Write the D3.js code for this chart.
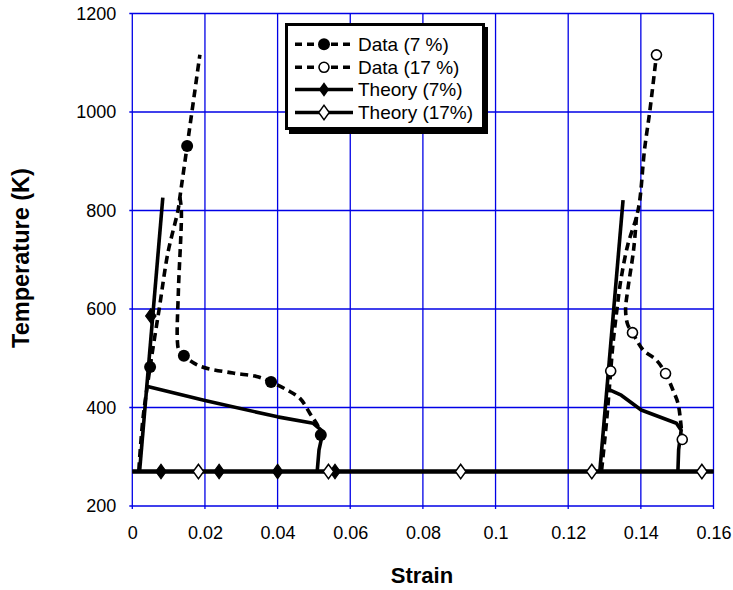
<!DOCTYPE html>
<html><head><meta charset="utf-8">
<script src="https://cdn.jsdelivr.net/npm/d3@7"></script>
<style>body{margin:0;background:#fff}svg{display:block}text{font-family:"Liberation Sans",Arial,sans-serif}</style>
</head><body><svg id="c" width="733" height="590"></svg>
<script>
const strainTicks = [0,0.02,0.04,0.06,0.08,0.1,0.12,0.14,0.16];
const tempTicks = [200,400,600,800,1000,1200];
const seriesNames = ["Data (7 %)","Data (17 %)","Theory (7%)","Theory (17%)"];

const data7Heat = [[0.0018,273],[0.0029,375],[0.0049,482],[0.0075,605],[0.0098,714],[0.0126,801],[0.0131,827],[0.0151,931],[0.0186,1116]];
const data7Cool = [[0.0131,827],[0.0135,801],[0.0127,639],[0.0124,537],[0.0128,517],[0.0142,505],[0.0186,484],[0.0277,470],[0.0342,463],[0.0382,452],[0.0425,436],[0.0461,419],[0.0489,388],[0.0512,361],[0.0519,344]];
const data7Markers = [[0.0151,931],[0.0049,482],[0.0142,505],[0.0382,452],[0.0519,344]];

const data17Heat = [[0.1292,273],[0.1306,375],[0.1317,474],[0.1323,527],[0.1334,598],[0.1345,659],[0.1364,730],[0.1388,787],[0.1397,821],[0.1410,923],[0.1424,998],[0.1443,1116]];
const data17Cool = [[0.1388,787],[0.1380,720],[0.1364,639],[0.1358,598],[0.1364,568],[0.1377,552],[0.1406,517],[0.1443,496],[0.1468,469],[0.1488,436],[0.1502,409],[0.1509,375],[0.1514,335]];
const data17Markers = [[0.1443,1116],[0.1377,552],[0.1317,474],[0.1468,469],[0.1514,335]];

const theory7Up = [[0.0020,270],[0.0084,826]];
const theory7Down = [[0.0045,442],[0.0200,414],[0.0400,381],[0.0498,368],[0.0525,351],[0.0514,314],[0.0509,270]];
const theory7Base = [[0,270],[0.16,270]];
const theory7Markers = [[0.0079,270],[0.0239,270],[0.0400,270],[0.0558,270],[0.0051,586]];

const theory17Up = [[0.1287,270],[0.1351,821]];
const theory17Down = [[0.1314,436],[0.1346,425],[0.1401,395],[0.1498,368],[0.1511,354],[0.1504,314],[0.1502,270]];
const theory17Base = [[0,270],[0.16,270]];
const theory17Markers = [[0.0182,270],[0.0540,270],[0.0904,270],[0.1265,270],[0.1568,270]];

const svg = d3.select("#c");
const x = d3.scaleLinear().domain([0,0.16]).range([132.3,713.5]);
const y = d3.scaleLinear().domain([200,1200]).range([506,13.5]);
const blue = "#0000e6";

// grid
const g = svg.append("g");
g.selectAll(".vg").data(strainTicks).join("line")
  .attr("x1",d=>x(d)).attr("x2",d=>x(d)).attr("y1",y(200)+3).attr("y2",y(1200))
  .attr("stroke",blue).attr("stroke-width",1.3);
g.selectAll(".hg").data(tempTicks).join("line")
  .attr("y1",d=>y(d)).attr("y2",d=>y(d)).attr("x1",x(0)-3).attr("x2",x(0.16))
  .attr("stroke",blue).attr("stroke-width",1.3);

// axes labels
const xAxis = d3.axisBottom(x).tickValues(strainTicks).tickFormat(d=>d3.format("~g")(d)).tickSize(0).tickPadding(20);
const xa = svg.append("g").attr("transform",`translate(0,${y(200)})`).call(xAxis);
xa.select(".domain").remove();
xa.selectAll("text").attr("font-size",18).attr("fill","#000").attr("font-family","Liberation Sans, Arial, sans-serif");
const yAxis = d3.axisLeft(y).tickValues(tempTicks).tickFormat(d3.format("d")).tickSize(0).tickPadding(16);
const ya = svg.append("g").attr("transform",`translate(${x(0)},0)`).call(yAxis);
ya.select(".domain").remove();
ya.selectAll("text").attr("font-size",18).attr("fill","#000").attr("font-family","Liberation Sans, Arial, sans-serif");

svg.append("text").attr("x",(x(0)+x(0.16))/2 - 1).attr("y",583).attr("text-anchor","middle")
  .attr("font-size",22).attr("font-weight","bold").text("Strain");
svg.append("text").attr("transform",`translate(29,258) rotate(-90)`).attr("text-anchor","middle")
  .attr("font-size",23.5).attr("font-weight","bold").text("Temperature (K)");

const line = d3.line().x(d=>x(d[0])).y(d=>y(d[1]));
const smooth = d3.line().x(d=>x(d[0])).y(d=>y(d[1])).curve(d3.curveCatmullRom.alpha(0.5));
const plot = svg.append("g");

// theory lines
[theory7Base, theory17Base].forEach(d=>plot.append("path").attr("d",line(d)).attr("fill","none").attr("stroke","#000").attr("stroke-width",4));
[theory7Up, theory7Down, theory17Up, theory17Down].forEach(d=>plot.append("path").attr("d",line(d)).attr("fill","none").attr("stroke","#000").attr("stroke-width",3.6).attr("stroke-linejoin","round"));

// data dashed lines
[data7Heat, data7Cool, data17Heat, data17Cool].forEach(d=>plot.append("path").attr("d",smooth(d)).attr("fill","none").attr("stroke","#000").attr("stroke-width",3.6).attr("stroke-dasharray","8,5"));

const diamond = d3.symbol().type(d3.symbolDiamond).size(60);
plot.selectAll(".t7").data(theory7Markers).join("path").attr("d",diamond)
  .attr("transform",d=>`translate(${x(d[0])},${y(d[1])}) scale(1.25,1)`).attr("fill","#000").attr("stroke","#000").attr("stroke-width",1);
plot.selectAll(".t17").data(theory17Markers).join("path").attr("d",diamond)
  .attr("transform",d=>`translate(${x(d[0])},${y(d[1])}) scale(1.25,1)`).attr("fill","#fff").attr("stroke","#000").attr("stroke-width",1.3);
plot.selectAll(".d7").data(data7Markers).join("circle").attr("cx",d=>x(d[0])).attr("cy",d=>y(d[1])).attr("r",6).attr("fill","#000");
plot.selectAll(".d17").data(data17Markers).join("circle").attr("cx",d=>x(d[0])).attr("cy",d=>y(d[1])).attr("r",5).attr("fill","#fff").attr("stroke","#000").attr("stroke-width",1.6);

// legend
const lg = svg.append("g");
lg.append("rect").attr("x",289).attr("y",27).attr("width",199).attr("height",107).attr("fill","#000");
lg.append("rect").attr("x",286.5).attr("y",24.5).attr("width",197).attr("height",104).attr("fill","#fff").attr("stroke","#000").attr("stroke-width",3);
const rows = [44.3,67.3,89.5,112.5];
seriesNames.forEach((name,i)=>{
  const ry = rows[i];
  const dashed = i<2;
  lg.append("line").attr("x1",295).attr("x2",353).attr("y1",ry).attr("y2",ry).attr("stroke","#000")
    .attr("stroke-width",3.6).attr("stroke-dasharray",dashed?"7,5":null);
  if(i===0) lg.append("circle").attr("cx",324).attr("cy",ry).attr("r",6).attr("fill","#000");
  if(i===1) lg.append("circle").attr("cx",324).attr("cy",ry).attr("r",5).attr("fill","#fff").attr("stroke","#000").attr("stroke-width",1.6);
  if(i===2) lg.append("path").attr("d",diamond).attr("transform",`translate(324,${ry}) scale(1.25,1)`).attr("fill","#000");
  if(i===3) lg.append("path").attr("d",diamond).attr("transform",`translate(324,${ry}) scale(1.25,1)`).attr("fill","#fff").attr("stroke","#000").attr("stroke-width",1.3);
  lg.append("text").attr("x",358).attr("y",ry+6.5).attr("font-size",19).text(name);
});
</script></body></html>
